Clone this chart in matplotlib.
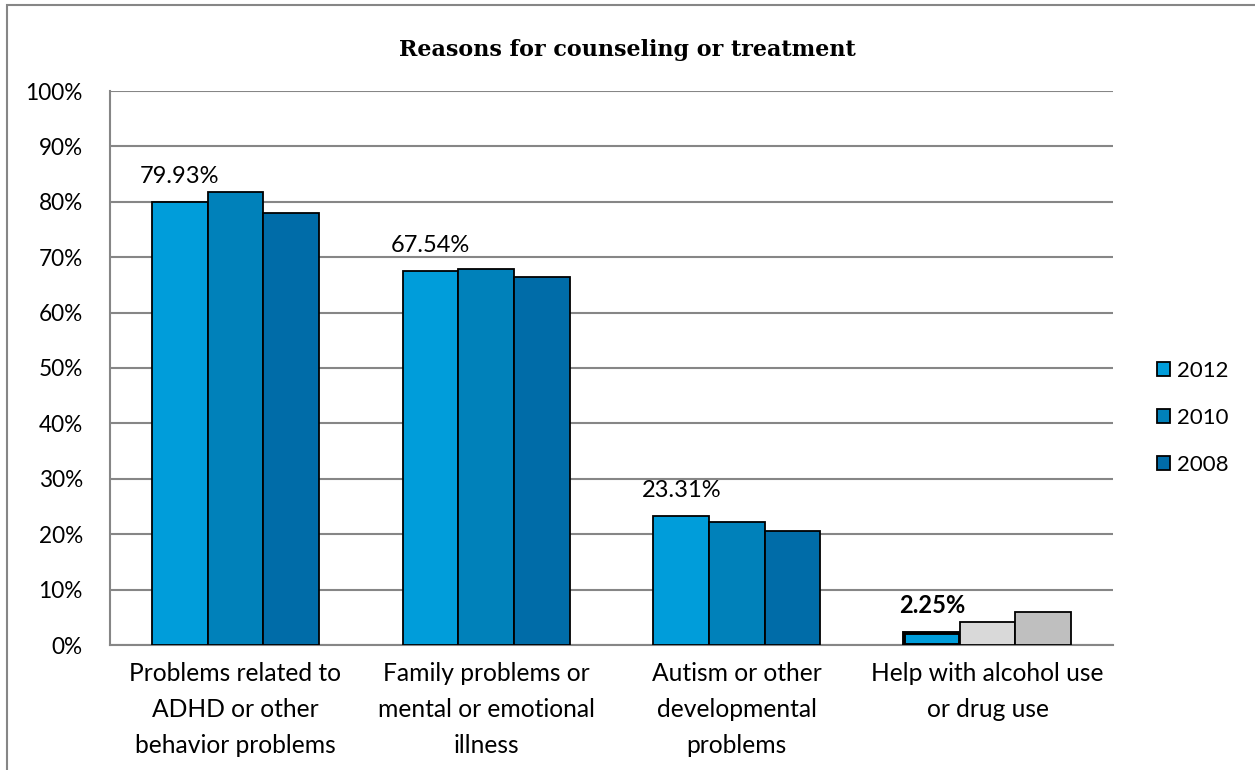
import matplotlib.pyplot as plt
import matplotlib.patches as mpatches
import numpy as np

categories = [
    "Problems related to\nADHD or other\nbehavior problems",
    "Family problems or\nmental or emotional\nillness",
    "Autism or other\ndevelopmental\nproblems",
    "Help with alcohol use\nor drug use",
]
years = ["2012", "2010", "2008"]
values_2012 = [79.93, 67.54, 23.31, 2.25]
values_2010 = [81.7, 67.8, 22.2, 4.1]
values_2008 = [77.9, 66.5, 20.6, 5.9]
series = [values_2012, values_2010, values_2008]

blues = ["#009dda", "#0081ba", "#006ca8"]
# last category: 2010 and 2008 are greyed out
last_colors = ["#009dda", "#d9d9d9", "#bfbfbf"]

plt.rcParams["font.family"] = ["Lato", "DejaVu Sans"]
grid_col = "#868686"

fig = plt.figure(figsize=(12.55, 7.7), dpi=100)
ax = fig.add_axes([110 / 1255, 1 - 645 / 770, 1003 / 1255, (645 - 91) / 770])

x = np.arange(len(categories))
w = 0.222
for i, (yr, vals) in enumerate(zip(years, series)):
    pos = x + (i - 1) * w
    cols = [blues[i]] * (len(categories) - 1) + [last_colors[i]]
    lws = [1.3] * len(categories)
    if i == 0:
        lws[-1] = 2.8
    ax.bar(pos, vals, width=w, color=cols, edgecolor="black",
           linewidth=lws, zorder=3)
    # legend proxy
    ax.bar([np.nan], [np.nan], width=w, color=blues[i], edgecolor="black",
           linewidth=1.3, label=yr)

for j, v in enumerate(values_2012):
    ax.annotate(f"{v:.2f}%", (x[j] - w, v), xytext=(0, 11),
                textcoords="offset points", ha="center", va="bottom",
                fontsize=17, fontweight="bold" if j == len(categories) - 1 else "normal")

ax.set_xlim(-0.5, len(categories) - 0.5)
ax.set_ylim(0, 100)
ax.set_yticks(np.arange(0, 101, 10))
ax.set_yticklabels([f"{t}%" for t in range(0, 101, 10)])
ax.set_xticks(x)
ax.set_xticklabels(categories, linespacing=1.7)
ax.tick_params(axis="y", length=0, pad=19.5, labelsize=16.3)
ax.tick_params(axis="x", length=0, pad=12, labelsize=17.7)
ax.yaxis.grid(True, color=grid_col, linewidth=1.5, zorder=0)
ax.set_axisbelow(True)
for s in ["top", "right"]:
    ax.spines[s].set_visible(False)
for s in ["left", "bottom"]:
    ax.spines[s].set_color(grid_col)
    ax.spines[s].set_linewidth(1.5)

ax.legend(loc="center left", bbox_to_anchor=(1.024, 0.41), frameon=False,
          fontsize=16, handlelength=0.6, handleheight=0.6, handletextpad=0.3,
          labelspacing=1.2)

fig.suptitle("Reasons for counseling or treatment", x=0.5, y=1 - 50 / 770,
             va="center", fontsize=16, fontweight="bold", family="DejaVu Serif")

border = mpatches.Rectangle((7 / 1255, -0.1), 1.2, 1.1 - 5 / 770,
                            transform=fig.transFigure, fill=False,
                            edgecolor=grid_col, linewidth=1.5, clip_on=False)
fig.patches.append(border)

fig.savefig("out.png", dpi=100)
